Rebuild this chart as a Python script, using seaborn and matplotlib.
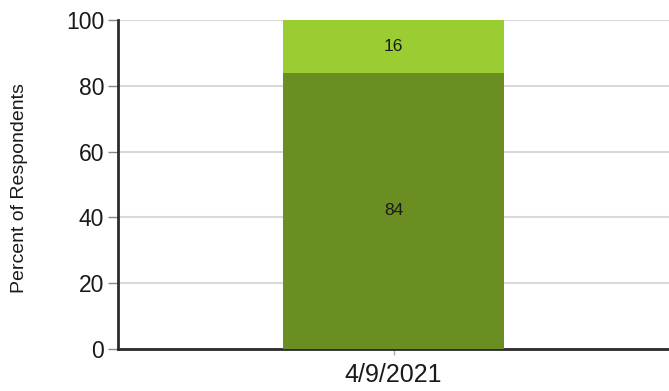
import matplotlib
matplotlib.use("Agg")
import matplotlib.pyplot as plt
import seaborn as sns
import pandas as pd

# Survey response shares for one collection date
dates = ["4/9/2021"]
share_lower = [84]
share_upper = [16]
y_ticks = [0, 20, 40, 60, 80, 100]

color_lower = "#6B8E23"
color_upper = "#9ACD32"

sns.set_theme(style="white")
plt.rcParams["font.family"] = ["Liberation Sans", "DejaVu Sans"]

df = pd.DataFrame({"date": dates, "lower": share_lower, "upper": share_upper})
df["total"] = df["lower"] + df["upper"]

fig = plt.figure(figsize=(6.69, 3.91), dpi=100)
ax = fig.add_axes([0.1764, 0.1074, 0.8236, 0.8414])

# stacked bar: full height in the light colour, lower share drawn over it
sns.barplot(data=df, x="date", y="total", color=color_upper, width=0.4,
            saturation=1, linewidth=0, ax=ax, zorder=2)
sns.barplot(data=df, x="date", y="lower", color=color_lower, width=0.4,
            saturation=1, linewidth=0, ax=ax, zorder=3)

for i, row in df.iterrows():
    ax.text(i, row["lower"] / 2, f"{row['lower']:g}", ha="center", va="center",
            fontsize=12.5, color="#1a1a1a", zorder=4)
    ax.text(i, row["lower"] + row["upper"] / 2, f"{row['upper']:g}",
            ha="center", va="center", fontsize=12.5, color="#1a1a1a", zorder=4)

ax.set_xlim(-0.5, 0.5)
ax.set_ylim(0, 100)
ax.set_yticks(y_ticks)
ax.set_yticklabels([str(t) for t in y_ticks])
ax.yaxis.grid(True, color="#d9d9d9", linewidth=1.5, zorder=0)
ax.set_axisbelow(True)

for side in ("top", "right"):
    ax.spines[side].set_visible(False)
for side in ("left", "bottom"):
    ax.spines[side].set_color("#2b2b2b")
    ax.spines[side].set_linewidth(2)

ax.tick_params(axis="y", which="major", left=True, length=7, width=1,
               color="#888888", labelsize=16.5, labelcolor="#1a1a1a", pad=3)
ax.tick_params(axis="x", which="major", bottom=True, length=4, width=1,
               color="#aaaaaa", labelsize=18, labelcolor="#1a1a1a", pad=6)

ax.set_xlabel("")
ax.set_ylabel("Percent of Respondents", fontsize=14, color="#1a1a1a")
ax.yaxis.set_label_coords(-0.163, 0.49)

fig.savefig("out.png", dpi=100)
